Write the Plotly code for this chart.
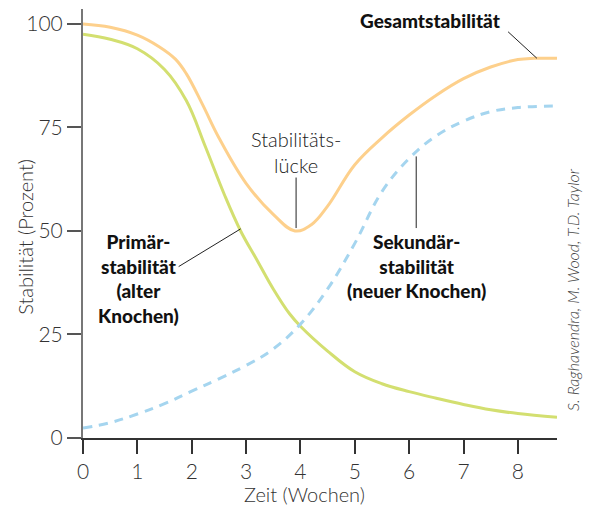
import plotly.graph_objects as go

# Gesamtstabilität
x_gesamt = [0, 0.5, 1, 1.4, 1.7, 1.9, 2.2, 2.5, 3, 3.5, 3.9, 4.2, 4.5, 5, 5.5, 6, 6.5, 7, 7.5, 8, 8.3, 8.72]
y_gesamt = [100, 99.2, 97.3, 94.5, 91.5, 88, 80.5, 72.5, 61.5, 54, 50, 51.5, 56, 66, 72.5, 78, 82.8, 86.8, 89.6, 91.4, 91.7, 91.7]

# Primärstabilität (alter Knochen)
x_primaer = [0, 0.5, 1, 1.5, 1.9, 2.25, 2.6, 2.9, 3.2, 3.5, 3.8, 4, 4.5, 5, 5.5, 6, 6.5, 7, 7.5, 8, 8.72]
y_primaer = [97.5, 96.3, 94, 89, 81.5, 70.4, 58.8, 50, 43, 36, 30, 27, 21, 16, 13.1, 11.2, 9.6, 8.1, 6.8, 5.9, 5]

# Sekundärstabilität (neuer Knochen)
x_sekundaer = [0, 0.5, 1, 1.5, 2, 2.5, 3, 3.5, 4, 4.5, 5, 5.5, 6, 6.5, 7, 7.5, 8, 8.72]
y_sekundaer = [2.4, 3.7, 5.8, 8.3, 11.3, 14.3, 17.5, 21.5, 27.5, 36, 47, 59.5, 67.5, 73, 76.5, 78.8, 79.8, 80.2]

x_ticks = [0, 1, 2, 3, 4, 5, 6, 7, 8]
y_ticks = [0, 25, 50, 75, 100]

FONT = "Lato"
fig = go.Figure()
fig.add_trace(go.Scatter(x=x_gesamt, y=y_gesamt, mode="lines",
                         line=dict(color="#fdd08c", width=3, shape="spline", smoothing=1.1)))
fig.add_trace(go.Scatter(x=x_primaer, y=y_primaer, mode="lines",
                         line=dict(color="#d3df70", width=3, shape="spline", smoothing=1.1)))
fig.add_trace(go.Scatter(x=x_sekundaer, y=y_sekundaer, mode="lines",
                         line=dict(color="#a5d5ef", width=3, shape="spline", smoothing=1.1,
                                   dash="9px,7px")))

# leader lines
leaders = [
    (7.82, 98.1, 8.35, 91.7),
    (3.92, 62.9, 3.92, 50.7),
    (1.76, 41.4, 2.9, 50.5),
    (6.13, 68.0, 6.13, 50.7),
]
for x0, y0, x1, y1 in leaders:
    fig.add_shape(type="line", x0=x0, y0=y0, x1=x1, y1=y1,
                  line=dict(color="#222222", width=1))

bold = dict(family=FONT, size=19, color="#111111", weight=900)
light = dict(family=FONT, size=20, color="#333333", weight=300)
fig.add_annotation(x=6.4, y=100.8, text="Gesamtstabilität", showarrow=False,
                   font=bold, xanchor="center", yanchor="middle")
fig.add_annotation(x=3.92, y=69.0, text="Stabilitäts-<br>lücke", showarrow=False,
                   font=dict(family=FONT, size=20, color="#222222", weight=300),
                   xanchor="center", yanchor="middle", align="center")
fig.add_annotation(x=1.02, y=38.4, text="Primär-<br>stabilität<br>(alter<br>Knochen)", showarrow=False,
                   font=bold, xanchor="center", yanchor="middle", align="center")
fig.add_annotation(x=6.13, y=41.5, text="Sekundär-<br>stabilität<br>(neuer Knochen)", showarrow=False,
                   font=bold, xanchor="center", yanchor="middle", align="center")
# axis titles
fig.add_annotation(x=0.468, y=0, xref="paper", yref="paper", yshift=-56,
                   text="Zeit (Wochen)", showarrow=False, font=light,
                   xanchor="center", yanchor="middle")
fig.add_annotation(x=0, y=0.469, xref="paper", yref="paper", xshift=-58,
                   text="Stabilität (Prozent)", showarrow=False, font=light, textangle=-90,
                   xanchor="center", yanchor="middle")
fig.add_annotation(x=1, y=0.345, xref="paper", yref="paper", xshift=16,
                   text="<i>S. Raghavendra, M. Wood, T.D. Taylor</i>", showarrow=False,
                   textangle=-90, font=dict(family=FONT, size=16, color="#444444", weight=300),
                   xanchor="center", yanchor="middle")

# page body has an 8px margin, so the figure is 8px smaller than the window
fig.update_layout(
    width=584, height=498,
    margin=dict(l=75, r=35, t=1, b=68),
    plot_bgcolor="white", paper_bgcolor="white",
    showlegend=False,
    font=dict(family=FONT, color="#333333", weight=300),
    xaxis=dict(range=[0, 8.72], tickvals=x_ticks, ticktext=[str(t) for t in x_ticks],
               showline=True, linecolor="#333333", linewidth=1.5, automargin=False,
               ticks="outside", ticklen=14, tickwidth=1.5, tickcolor="#333333",
               showgrid=False, zeroline=False,
               tickfont=dict(family=FONT, size=21, color="#333333", weight=300)),
    yaxis=dict(range=[0, 103.6], tickvals=y_ticks, ticktext=[str(t) for t in y_ticks],
               showline=True, linecolor="#777777", linewidth=2, automargin=False,
               ticks="outside", ticklen=14, tickwidth=1.5, tickcolor="#555555",
               showgrid=False, zeroline=False,
               tickfont=dict(family=FONT, size=21, color="#333333", weight=300)),
)

fig.write_html("out.html")
